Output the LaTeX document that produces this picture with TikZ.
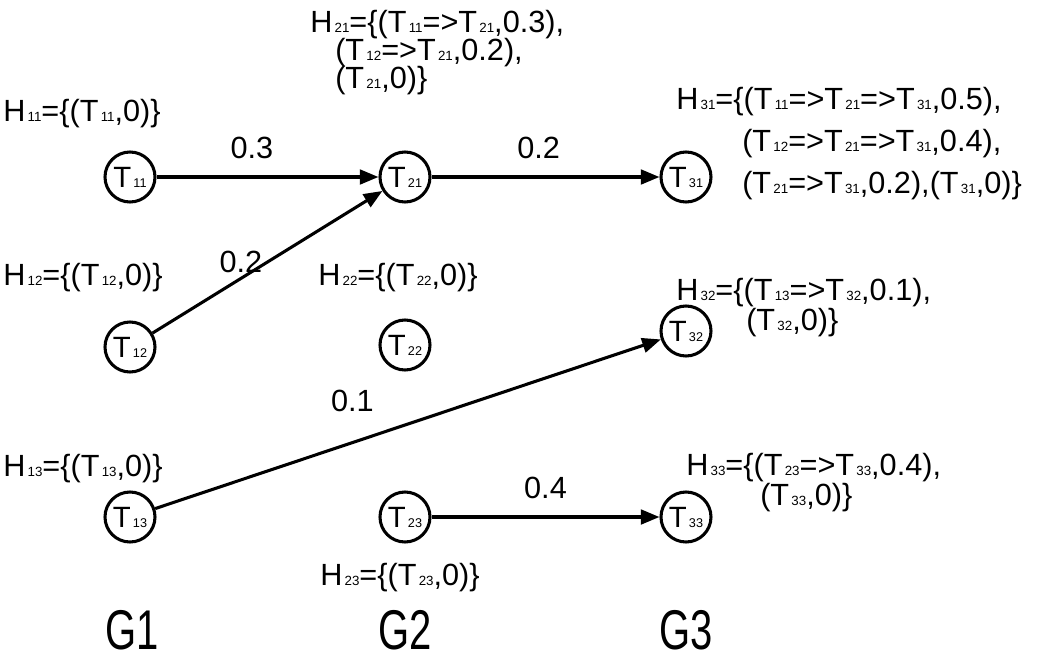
\documentclass[tikz,border=0pt]{standalone}
\usepackage{fontspec}
\setmainfont{Liberation Sans}
\usetikzlibrary{arrows.meta}
\newcommand\ix[1]{{\fontsize{10}{10}\selectfont\,#1}}
\newcommand\cx[1]{{\fontsize{9.5}{9.5}\selectfont\,#1}}
\begin{document}
\begin{tikzpicture}[x=0.75pt,y=-0.75pt,
  tnode/.style={circle,draw,line width=2.3pt,minimum size=37.5pt,inner sep=0pt,font=\fontsize{22}{23}\selectfont},
  lbl/.style={font=\fontsize{23}{24}\selectfont,inner sep=0pt},
  hl/.style={lbl,anchor=base west},
  edge/.style={line width=2.3pt,-{Triangle[length=14pt,width=11pt]}},
  glab/.style={font=\fontsize{30}{32}\selectfont,inner sep=0pt,yscale=1.4}]
\useasboundingbox[fill=white] (0,0) rectangle (1051,665);
% task nodes
\node[tnode] (T11) at (130,177) {T\cx{11}};
\node[tnode] (T21) at (405,177) {T\cx{21}};
\node[tnode] (T31) at (686,177) {T\cx{31}};
\node[tnode] (T12) at (130,347) {T\cx{12}};
\node[tnode] (T22) at (405,345) {T\cx{22}};
\node[tnode] (T32) at (686,331) {T\cx{32}};
\node[tnode] (T13) at (130,517) {T\cx{13}};
\node[tnode] (T23) at (405,517) {T\cx{23}};
\node[tnode] (T33) at (686,517) {T\cx{33}};
% edges
\draw[edge] (T11) -- node[lbl,pos=0.43,yshift=22pt] {0.3} (T21);
\draw[edge] (T21) -- node[lbl,pos=0.47,yshift=22pt] {0.2} (T31);
\draw[edge] (T12) -- node[lbl,pos=0.5,xshift=-20pt,yshift=0pt] {0.2} (T21);
\draw[edge] (T13) -- node[lbl,pos=0.39,yshift=31pt] {0.1} (T32);
\draw[edge] (T23) -- node[lbl,pos=0.5,yshift=22pt] {0.4} (T33);
% history labels
\node[hl] (H11) at (3,121) {H\ix{11}=\{(T\ix{11},0)\}};
\node[hl] (H21a) at (310,32) {H\ix{21}=\{(T\ix{11}=>T\ix{21},0.3),};
\node[hl] (H21b) at (335,60) {(T\ix{12}=>T\ix{21},0.2),};
\node[hl] (H21c) at (335,88) {(T\ix{21},0)\}};
\node[hl] (H31a) at (676,109) {H\ix{31}=\{(T\ix{11}=>T\ix{21}=>T\ix{31},0.5),};
\node[hl] (H31b) at (742,151) {(T\ix{12}=>T\ix{21}=>T\ix{31},0.4),};
\node[hl] (H31c) at (742,193) {(T\ix{21}=>T\ix{31},0.2),(T\ix{31},0)\}};
\node[hl] (H12) at (3,285) {H\ix{12}=\{(T\ix{12},0)\}};
\node[hl] (H22) at (318,285) {H\ix{22}=\{(T\ix{22},0)\}};
\node[hl] (H32a) at (676,300) {H\ix{32}=\{(T\ix{13}=>T\ix{32},0.1),};
\node[hl] (H32b) at (746,330) {(T\ix{32},0)\}};
\node[hl] (H13) at (3,476) {H\ix{13}=\{(T\ix{13},0)\}};
\node[hl] (H23) at (320,585) {H\ix{23}=\{(T\ix{23},0)\}};
\node[hl] (H33a) at (686,475) {H\ix{33}=\{(T\ix{23}=>T\ix{33},0.4),};
\node[hl] (H33b) at (760,505) {(T\ix{33},0)\}};
% group labels
\node[glab] (G1) at (132,630) {G1};
\node[glab] (G2) at (405,630) {G2};
\node[glab] (G3) at (686,630) {G3};
\end{tikzpicture}
\end{document}
